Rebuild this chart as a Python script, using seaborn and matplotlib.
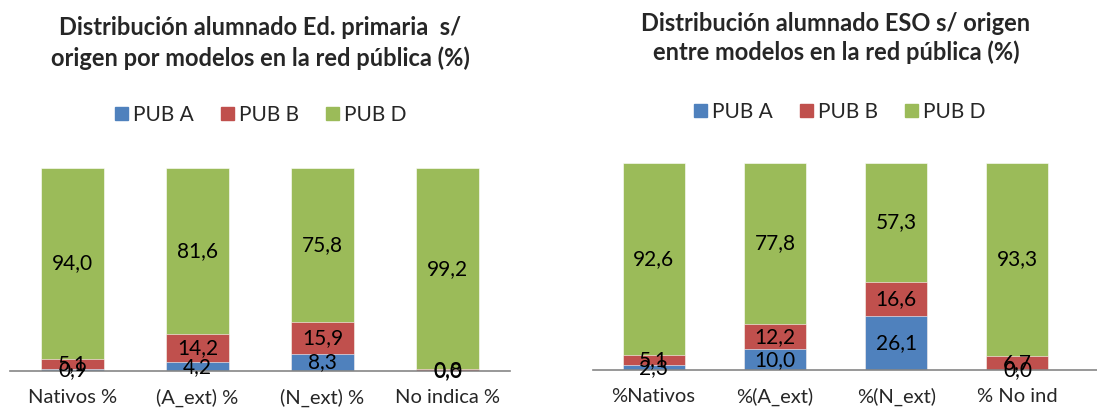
import numpy as np
import pandas as pd
import matplotlib
matplotlib.use("Agg")
import matplotlib.pyplot as plt
import seaborn as sns
from matplotlib.patches import Patch


# Data
series = ["PUB A", "PUB B", "PUB D"]
colors = ["#4F81BD", "#C0504D", "#9BBB59"]

prim_cats = ["Nativos %", "(A_ext) %", "(N_ext) %", "No indica %"]
prim_a = [0.9, 4.2, 8.3, 0.0]
prim_b = [5.1, 14.2, 15.9, 0.8]
prim_d = [94.0, 81.6, 75.8, 99.2]

eso_cats = ["%Nativos", "%(A_ext)", "%(N_ext)", "% No ind"]
eso_a = [2.3, 10.0, 26.1, 0.0]
eso_b = [5.1, 12.2, 16.6, 6.7]
eso_d = [92.6, 77.8, 57.3, 93.3]

prim_title = "Distribución alumnado Ed. primaria  s/\norigen por modelos en la red pública (%)"
eso_title = "Distribución alumnado ESO s/ origen\nentre modelos en la red pública (%)"


sns.set_theme(style="white")
plt.rcParams["font.family"] = ["Lato", "DejaVu Sans"]

fig = plt.figure(figsize=(10.97, 4.15), dpi=100)

W, H = 1097, 415


def stacked(ax, cats, a, b, d):
    df = pd.DataFrame({"cat": cats, "a": a, "b": b, "d": d})
    # layered bars: total first, then partial sums on top
    df["ab"] = df["a"] + df["b"]
    df["abd"] = df["ab"] + df["d"]
    for col, c in [("abd", colors[2]), ("ab", colors[1]), ("a", colors[0])]:
        sns.barplot(data=df, x="cat", y=col, color=c, width=0.51,
                    saturation=1, edgecolor="white", linewidth=0.4, ax=ax)

    # labels in middle of each segment
    xs = np.arange(len(cats))
    for i in xs:
        bottom = 0
        for v in [a[i], b[i], d[i]]:
            ax.text(i, bottom + v / 2, f"{v:.1f}".replace(".", ","),
                    ha="center", va="center", fontsize=15, color="black")
            bottom += v

    ax.set_ylim(0, 100)
    ax.set_xlabel("")
    ax.set_ylabel("")
    ax.set_yticks([])
    for s in ["top", "right", "left"]:
        ax.spines[s].set_visible(False)
    ax.spines["bottom"].set_color("#868686")
    ax.spines["bottom"].set_linewidth(1.2)
    ax.tick_params(axis="x", length=0, pad=13, labelsize=14.5)


# left panel
ax1 = fig.add_axes([10 / W, 1 - 371 / H, 500 / W, 203 / H])
stacked(ax1, prim_cats, prim_a, prim_b, prim_d)
ax1.set_xlim(-0.5, 3.5)

# right panel
ax2 = fig.add_axes([593 / W, 1 - 370 / H, 504 / W, 207 / H])
stacked(ax2, eso_cats, eso_a, eso_b, eso_d)
ax2.set_xlim(-0.5, -0.5 + 4 * 504 / 485)

# titles
fig.text(260 / W, 1 - 43 / H, prim_title, ha="center", va="center",
         fontsize=17, fontweight="bold", linespacing=1.4)
fig.text(836 / W, 1 - 38 / H, eso_title, ha="center", va="center",
         fontsize=17, fontweight="bold", linespacing=1.28)

# legends
handles = [Patch(color=c, label=s) for s, c in zip(series, colors)]
fig.legend(handles=handles, loc="center", bbox_to_anchor=(261 / W, 1 - 115 / H),
           ncol=3, frameon=False, fontsize=15, handlelength=0.62, handleheight=0.62,
           handletextpad=0.25, columnspacing=1.3)
fig.legend(handles=handles, loc="center", bbox_to_anchor=(840 / W, 1 - 112 / H),
           ncol=3, frameon=False, fontsize=15, handlelength=0.62, handleheight=0.62,
           handletextpad=0.25, columnspacing=1.3)

fig.savefig("out.png", dpi=100)
